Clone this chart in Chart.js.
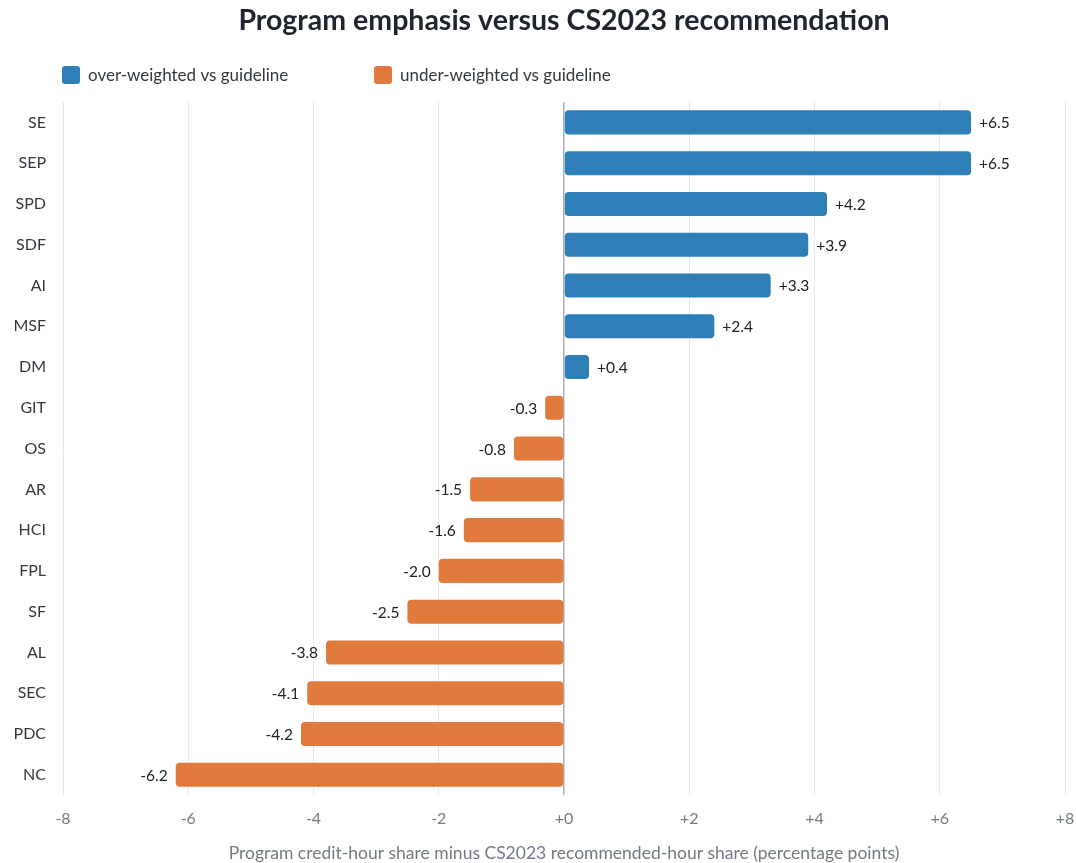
<!DOCTYPE html>
<html>
<head>
<meta charset="utf-8">
<script src="https://cdn.jsdelivr.net/npm/chart.js@4.4.1/dist/chart.umd.min.js"></script>
<style>
  html, body { margin: 0; padding: 0; background: #fff; }
  #wrap { width: 1076px; height: 863px; }
</style>
</head>
<body>
<div id="wrap"><canvas id="gapChart"></canvas></div>
<script>
const categories = ['SE', 'SEP', 'SPD', 'SDF', 'AI', 'MSF', 'DM', 'GIT', 'OS', 'AR', 'HCI', 'FPL', 'SF', 'AL', 'SEC', 'PDC', 'NC'];
const gapValues = [6.5, 6.5, 4.2, 3.9, 3.3, 2.4, 0.4, -0.3, -0.8, -1.5, -1.6, -2.0, -2.5, -3.8, -4.1, -4.2, -6.2];
const seriesNames = ['over-weighted vs guideline', 'under-weighted vs guideline'];
const xTicks = [-8, -6, -4, -2, 0, 2, 4, 6, 8];

const BLUE = '#2e7fb8';
const ORANGE = '#e07a3d';

Chart.defaults.font.family = 'Lato, "Noto Sans", sans-serif';

const signed = v => (v >= 0 ? '+' : '') + v;

// title + legend drawn over the chart area, not the whole canvas
const headerPlugin = {
  id: 'header',
  afterDraw(chart) {
    const { ctx, chartArea } = chart;
    ctx.save();
    ctx.fillStyle = '#1f2430';
    ctx.font = 'bold 28.5px Lato';
    ctx.textAlign = 'center';
    ctx.textBaseline = 'middle';
    ctx.fillText('Program emphasis versus CS2023 recommendation', (chartArea.left + chartArea.right) / 2, 21);

    ctx.font = '17px Lato';
    ctx.textAlign = 'left';
    const starts = [62, 374];
    [BLUE, ORANGE].forEach((c, i) => {
      ctx.fillStyle = c;
      ctx.beginPath();
      ctx.roundRect(starts[i], 66, 18, 18, 3);
      ctx.fill();
      ctx.fillStyle = '#333840';
      ctx.fillText(seriesNames[i], starts[i] + 26, 75.5);
    });
    ctx.restore();
  }
};

const valueLabels = {
  id: 'valueLabels',
  afterDatasetsDraw(chart) {
    const { ctx } = chart;
    ctx.save();
    ctx.font = '15.5px Lato';
    ctx.fillStyle = '#222';
    ctx.textBaseline = 'middle';
    chart.data.datasets.forEach((ds, di) => {
      chart.getDatasetMeta(di).data.forEach((bar, i) => {
        const v = ds.data[i];
        if (v === null) return;
        if (v >= 0) {
          ctx.textAlign = 'left';
          ctx.fillText(signed(v.toFixed(1)), bar.x + 8, bar.y + 1);
        } else {
          ctx.textAlign = 'right';
          ctx.fillText(v.toFixed(1), bar.x - 8, bar.y + 1);
        }
      });
    });
    ctx.restore();
  }
};

new Chart(document.getElementById('gapChart'), {
  type: 'bar',
  data: {
    labels: categories,
    datasets: [{
      label: seriesNames[0],
      data: gapValues.map(v => v >= 0 ? v : null),
      backgroundColor: BLUE
    }, {
      label: seriesNames[1],
      data: gapValues.map(v => v < 0 ? v : null),
      backgroundColor: ORANGE
    }]
  },
  options: {
    indexAxis: 'y',
    responsive: true,
    maintainAspectRatio: false,
    animation: false,
    grouped: false,
    barPercentage: 0.59,
    categoryPercentage: 1,
    borderRadius: 4,
    borderSkipped: false,
    layout: { padding: { top: 102, right: 11, bottom: 0, left: 0 } },
    plugins: {
      legend: { display: false },
      title: { display: false },
      tooltip: { enabled: false }
    },
    scales: {
      x: {
        min: -8,
        max: 8,
        afterBuildTicks: s => { s.ticks = xTicks.map(v => ({ value: v })); },
        afterFit: s => { s.paddingLeft = 0; s.paddingRight = 0; },
        ticks: {
          padding: 15,
          color: '#737a86',
          font: { size: 16, lineHeight: 1.1 },
          callback: v => signed(v)
        },
        grid: {
          drawTicks: false,
          color: c => c.tick && c.tick.value === 0 ? '#a9aeb6' : '#e6e8ec',
          lineWidth: c => c.tick && c.tick.value === 0 ? 1.5 : 1
        },
        border: { display: false },
        title: {
          display: true,
          text: 'Program credit-hour share minus CS2023 recommended-hour share (percentage points)',
          color: '#737a86',
          font: { size: 17.5, lineHeight: 1.1 },
          padding: { top: 1, bottom: 0 }
        }
      },
      y: {
        afterFit: s => { s.width = 63; },
        ticks: { padding: 9, color: '#333840', font: { size: 16 } },
        grid: { display: false },
        border: { display: false }
      }
    }
  },
  plugins: [headerPlugin, valueLabels]
});
</script>
</body>
</html>
